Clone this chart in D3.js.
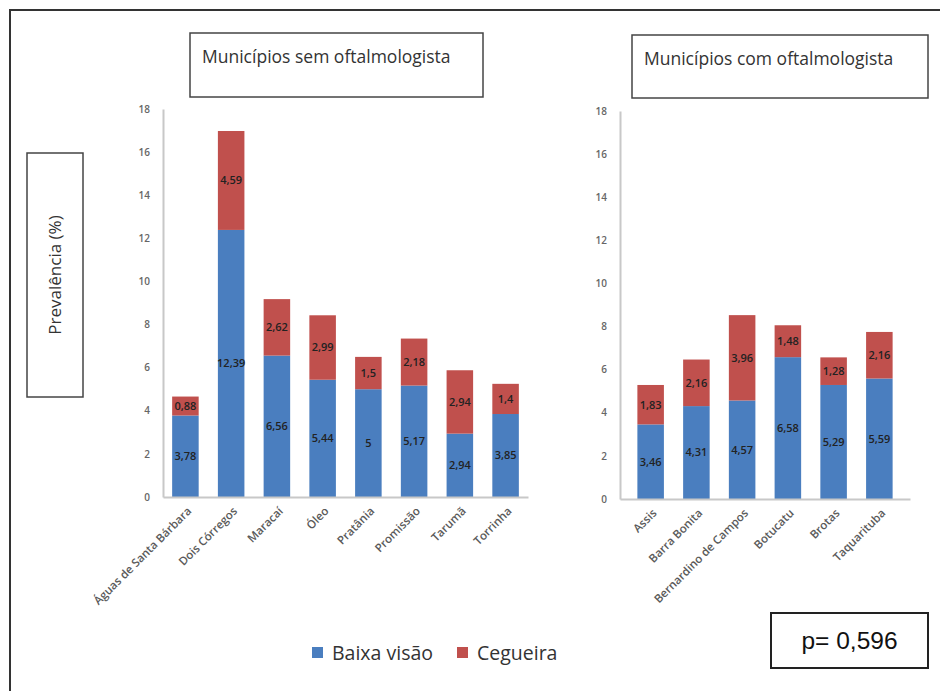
<!DOCTYPE html>
<html><head><meta charset="utf-8">
<script src="https://cdn.jsdelivr.net/npm/d3@7"></script>
<style>body{margin:0;background:#fff}svg{display:block}</style>
</head><body>
<script>
// ---- data ----
const seriesNames = ["Baixa visão", "Cegueira"];
const catsSem = ["Águas de Santa Bárbara","Dois Córregos","Maracaí","Óleo","Pratânia","Promissão","Tarumã","Torrinha"];
const baixaSem = [3.78, 12.39, 6.56, 5.44, 5, 5.17, 2.94, 3.85];
const cegSem   = [0.88, 4.59, 2.62, 2.99, 1.5, 2.18, 2.94, 1.4];
const catsCom = ["Assis","Barra Bonita","Bernardino de Campos","Botucatu","Brotas","Taquarituba"];
const baixaCom = [3.46, 4.31, 4.57, 6.58, 5.29, 5.59];
const cegCom   = [1.83, 2.16, 3.96, 1.48, 1.28, 2.16];
const yTicks = [0,2,4,6,8,10,12,14,16,18];
const titles = ["Municípios sem oftalmologista", "Municípios com oftalmologista"];
const yLabel = "Prevalência (%)";
const pText = "p= 0,596";

const W = 940, H = 691;
const colors = {"Baixa visão":"#4a7ebf", "Cegueira":"#c0504d"};
const font = "'Open Sans', 'Noto Sans', sans-serif";
const svg = d3.select("body").append("svg").attr("width", W).attr("height", H);

// outer frame
svg.append("rect").attr("x",10).attr("y",10).attr("width",W).attr("height",H)
  .attr("fill","none").attr("stroke","#333").attr("stroke-width",2);

const fmt = v => String(v).replace(".", ",");

function panel(cats, baixa, ceg, x0, x1, yTop, yBottom, padOuter) {
  const g = svg.append("g");
  const x = d3.scaleBand().domain(cats).range([x0, x1]).paddingInner(0.42).paddingOuter(padOuter);
  const y = d3.scaleLinear().domain([0,18]).range([yBottom, yTop]);
  const rows = cats.map((c,i)=>({cat:c, "Baixa visão":baixa[i], "Cegueira":ceg[i]}));
  const stacked = d3.stack().keys(seriesNames)(rows);

  // y axis
  const ya = g.append("g").attr("transform",`translate(${x0},0)`)
    .call(d3.axisLeft(y).tickValues(yTicks).tickSize(0).tickPadding(13).tickFormat(d=>d));
  ya.select(".domain").attr("stroke","#c8c8c8").attr("stroke-width",2);
  ya.selectAll("text").attr("font-family",font).attr("font-size",10).attr("font-weight",600).attr("fill","#666");

  // bars
  stacked.forEach(s=>{
    g.selectAll(null).data(s).enter().append("rect")
      .attr("x",d=>x(d.data.cat)).attr("width",x.bandwidth())
      .attr("y",d=>y(d[1])).attr("height",d=>y(d[0])-y(d[1]))
      .attr("fill",colors[s.key]);
    g.selectAll(null).data(s).enter().append("text")
      .attr("x",d=>x(d.data.cat)+x.bandwidth()/2)
      .attr("y",d=>y((d[0]+d[1])/2))
      .attr("dy","0.35em").attr("text-anchor","middle")
      .attr("font-family",font).attr("font-size",11).attr("font-weight",600).attr("fill","#222")
      .text(d=>fmt(d.data[s.key]));
  });

  // x axis
  const xa = g.append("g").attr("transform",`translate(0,${yBottom})`)
    .call(d3.axisBottom(x).tickSize(0).tickPadding(0));
  xa.select(".domain").attr("stroke","#c8c8c8").attr("stroke-width",2);
  xa.selectAll("text")
    .attr("font-family",font).attr("font-size",11.5).attr("font-weight",600).attr("fill","#5a5a5a")
    .attr("text-anchor","end").attr("dy","0.35em")
    .attr("transform","translate(4,12) rotate(-45)");
}

panel(catsSem, baixaSem, cegSem, 163, 528, 109, 497, 0.2);
panel(catsCom, baixaCom, cegCom, 620, 910, 111, 499, 0.38);

// title boxes
[[190,33,293,64,titles[0]],[632,35,296,63,titles[1]]].forEach(([bx,by,bw,bh,t])=>{
  svg.append("rect").attr("x",bx).attr("y",by).attr("width",bw).attr("height",bh)
    .attr("fill","#fff").attr("stroke","#444").attr("stroke-width",1.5);
  svg.append("text").attr("x",bx+12).attr("y",by+30).attr("font-family",font)
    .attr("font-size",17.5).attr("fill","#333").text(t);
});

// y label box
svg.append("rect").attr("x",27).attr("y",153).attr("width",56).attr("height",244)
  .attr("fill","#fff").attr("stroke","#444").attr("stroke-width",1.5);
svg.append("text").attr("transform","translate(55,275) rotate(-90)")
  .attr("text-anchor","middle").attr("dy","0.35em")
  .attr("font-family",font).attr("font-size",17).attr("fill","#333").text(yLabel);

// legend
const leg = svg.append("g");
const legPos = [[312,332],[457,477]];
seriesNames.forEach((n,i)=>{
  leg.append("rect").attr("x",legPos[i][0]).attr("y",647).attr("width",11).attr("height",11).attr("fill",colors[n]);
  leg.append("text").attr("x",legPos[i][1]).attr("y",653).attr("dy","0.35em")
    .attr("font-family",font).attr("font-size",19.5).attr("fill","#333").text(n);
});

// p box
svg.append("rect").attr("x",771).attr("y",613).attr("width",157).attr("height",55)
  .attr("fill","#fff").attr("stroke","#222").attr("stroke-width",2);
svg.append("text").attr("x",849.5).attr("y",640).attr("dy","0.35em").attr("text-anchor","middle")
  .attr("font-family","'Liberation Sans', Arial, sans-serif").attr("font-size",24.5).attr("fill","#111").text(pText);
</script>
</body></html>
